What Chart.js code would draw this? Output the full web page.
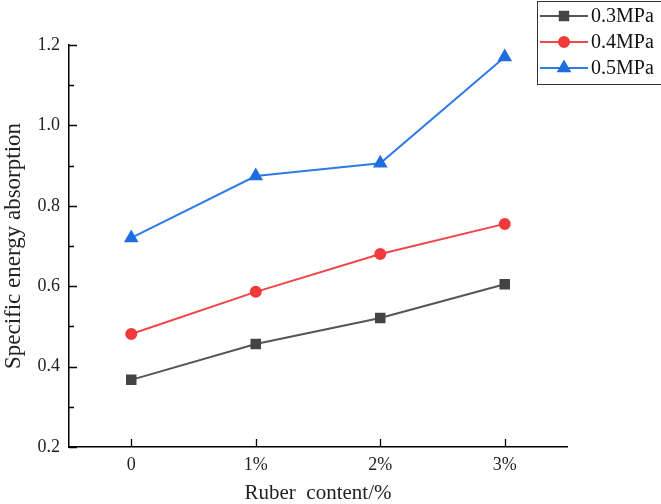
<!DOCTYPE html>
<html>
<head>
<meta charset="utf-8">
<script src="https://cdn.jsdelivr.net/npm/chart.js@4"></script>
<style>
  body { margin: 0; background: #fff; }
  #wrap { width: 661px; height: 504px; }
</style>
</head>
<body>
<div id="wrap"><canvas id="energyChart"></canvas></div>
<script>
const rubberContent = ['0', '1%', '2%', '3%'];
const seriesNames = ['0.3MPa', '0.4MPa', '0.5MPa'];
const mpa03 = [0.367, 0.456, 0.521, 0.605];
const mpa04 = [0.481, 0.586, 0.680, 0.755];
const mpa05 = [0.720, 0.874, 0.906, 1.170];
const yTicks = [0.2, 0.4, 0.6, 0.8, 1.0, 1.2];

const serif = 'Liberation Serif';

// inward ticks (major + minor) like the Origin plot
const inwardTicks = {
    id: 'inwardTicks',
    afterDraw(chart) {
        const ctx = chart.ctx;
        const x = chart.scales.x, y = chart.scales.y;
        ctx.save();
        ctx.strokeStyle = '#000';
        ctx.lineWidth = 1.3;
        ctx.beginPath();
        for (let v = 0.2; v <= 1.2001; v += 0.1) {
            const py = Math.round(y.getPixelForValue(v)) + 0.5;
            const major = Math.round(v * 10) % 2 === 0;
            ctx.moveTo(x.left, py);
            ctx.lineTo(x.left + (major ? 8 : 5), py);
        }
        rubberContent.forEach((c, i) => {
            const px = Math.round(x.getPixelForValue(i)) + 0.5;
            ctx.moveTo(px, y.bottom);
            ctx.lineTo(px, y.bottom - 8);
        });
        ctx.stroke();
        ctx.restore();
    }
};

// boxed legend at the top right
const boxLegend = {
    id: 'boxLegend',
    afterDraw(chart) {
        const ctx = chart.ctx;
        ctx.save();
        ctx.strokeStyle = '#333';
        ctx.lineWidth = 1;
        ctx.strokeRect(537.5, 1.5, 130, 83);
        chart.data.datasets.forEach((ds, i) => {
            const cy = 16 + i * 26;
            ctx.strokeStyle = ds.borderColor;
            ctx.lineWidth = 2;
            ctx.beginPath();
            ctx.moveTo(540, cy);
            ctx.lineTo(588, cy);
            ctx.stroke();
            ctx.fillStyle = ds.pointBackgroundColor;
            ctx.strokeStyle = ds.pointBackgroundColor;
            Chart.helpers.drawPoint(ctx, {
                pointStyle: ds.pointStyle, radius: ds.pointRadius, rotation: 0, borderWidth: 1
            }, 564, cy);
            ctx.fillStyle = '#111';
            ctx.font = '20px "' + serif + '"';
            ctx.textBaseline = 'middle';
            ctx.fillText(ds.label, 591, cy + 1);
        });
        ctx.restore();
    }
};

const energyData = {
    labels: rubberContent,
    datasets: [{
        label: seriesNames[0],
        data: mpa03,
        borderColor: '#555555',
        pointBackgroundColor: '#444444',
        pointBorderColor: '#444444',
        pointStyle: 'rect',
        pointRadius: 6,
        borderWidth: 2
    },
    {
        label: seriesNames[1],
        data: mpa04,
        borderColor: '#f24545',
        pointBackgroundColor: '#f03a3a',
        pointBorderColor: '#f03a3a',
        pointStyle: 'circle',
        pointRadius: 5,
        borderWidth: 2
    },
    {
        label: seriesNames[2],
        data: mpa05,
        borderColor: '#2f7be6',
        pointBackgroundColor: '#1f6ee0',
        pointBorderColor: '#1f6ee0',
        pointStyle: 'triangle',
        pointRadius: 6.5,
        borderWidth: 2
    }]
};

const config1 = {
    type: 'line',
    data: energyData,
    options: {
        responsive: true,
        maintainAspectRatio: false,
        animation: false,
        layout: { padding: { top: 45, right: 94, bottom: 0, left: 0 } },
        plugins: {
            legend: { display: false },
            tooltip: { enabled: false }
        },
        scales: {
            x: {
                offset: true,
                grid: { display: false, drawTicks: false },
                border: { display: true, color: '#000', width: 1.5 },
                ticks: { color: '#222', padding: 7, font: { family: serif, size: 18 } },
                title: {
                    display: true,
                    text: 'Ruber  content/%',
                    color: '#222',
                    font: { family: serif, size: 21, lineHeight: 1 },
                    padding: { top: 4, bottom: 0 }
                },
                afterFit(scale) { scale.height = 57; }
            },
            y: {
                min: 0.2,
                max: 1.2,
                afterBuildTicks(scale) {
                    scale.ticks = yTicks.map(v => ({ value: v }));
                },
                grid: { display: false, drawTicks: false },
                border: { display: true, color: '#000', width: 1.5 },
                ticks: {
                    color: '#222',
                    padding: 9,
                    font: { family: serif, size: 18 },
                    callback: v => v.toFixed(1)
                },
                title: {
                    display: true,
                    text: 'Specific energy absorption',
                    color: '#222',
                    font: { family: serif, size: 23 },
                    padding: { top: 0, bottom: 0 }
                },
                afterFit(scale) { scale.width = 69; }
            }
        }
    },
    plugins: [inwardTicks, boxLegend]
};

const chart1 = new Chart(document.getElementById('energyChart'), config1);
</script>
</body>
</html>
